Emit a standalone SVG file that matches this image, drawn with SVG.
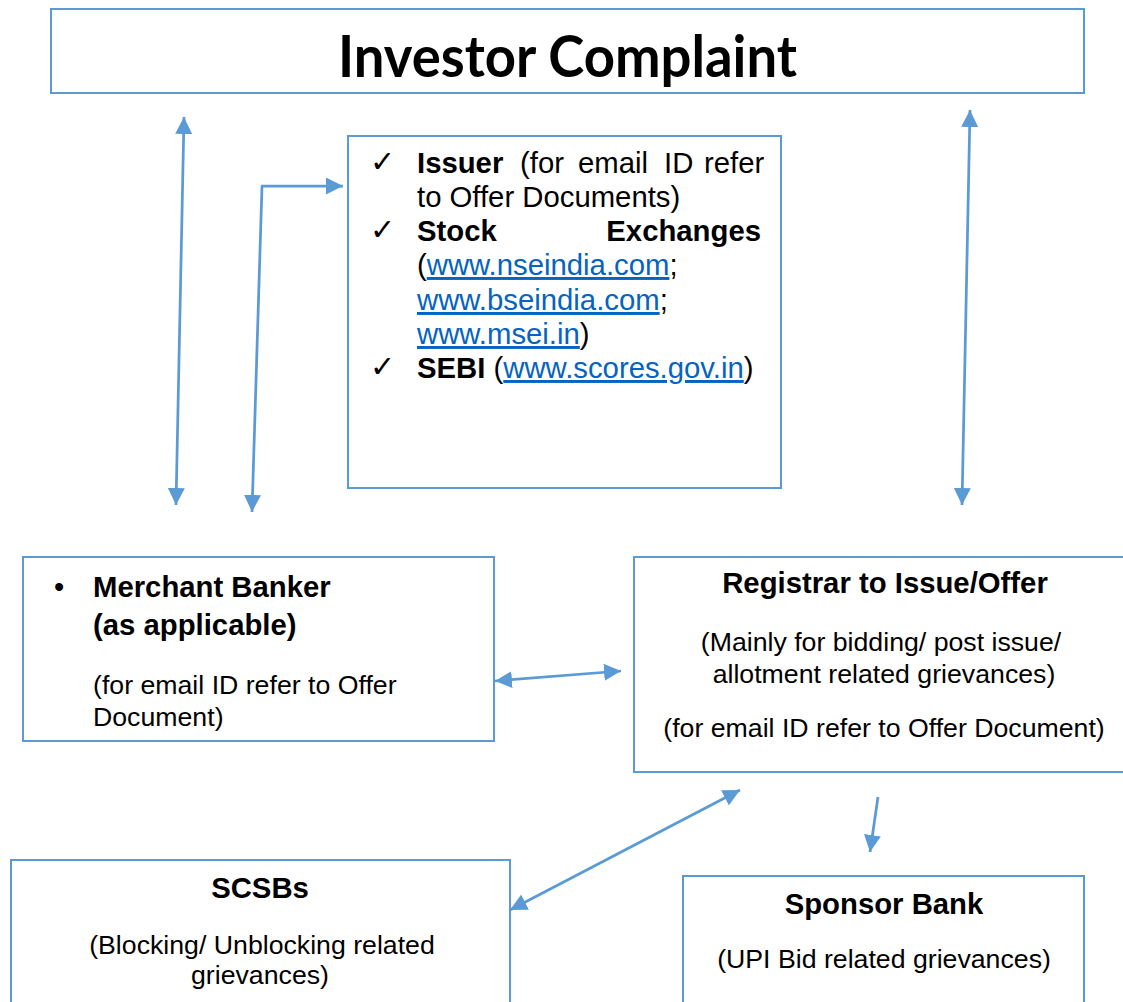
<svg xmlns="http://www.w3.org/2000/svg" width="1123" height="1002" viewBox="0 0 1123 1002">
<style>
.box{fill:#fff;stroke:#5B9BD5;stroke-width:2}
.t{font-family:"Liberation Sans",Arial,sans-serif;fill:#000}
.b{font-weight:bold}
.s29{font-size:29.3px}
.s27{font-size:26.7px}
.lnk{fill:#0563C1;text-decoration:underline}
.ck{font-family:"DejaVu Sans",sans-serif;font-size:30px;fill:#000}
.c{stroke:#5B9BD5;stroke-width:2.75;fill:none}
</style>
<defs>
<marker id="ah" viewBox="0 0 17 17" refX="17" refY="8.5" markerWidth="17" markerHeight="17" markerUnits="userSpaceOnUse" orient="auto-start-reverse">
<path d="M0,0 L17,8.5 L0,17 z" fill="#5B9BD5"/>
</marker>
</defs>
<g id="investor-complaint">
<rect class="box" x="51" y="9" width="1033" height="84"/>
<text x="338" y="77" font-family="Lato,'Open Sans',sans-serif" font-weight="bold" font-size="57" textLength="459" lengthAdjust="spacingAndGlyphs" fill="#000">Investor Complaint</text>
</g>
<g id="authorities">
<rect class="box" x="348" y="136" width="433" height="352"/>
<text class="ck" x="370" y="172">✓</text>
<text class="ck" x="370" y="240">✓</text>
<text class="ck" x="370" y="377">✓</text>
<text class="t s29" y="173"><tspan x="417" class="b">Issuer</tspan><tspan x="520">(for</tspan><tspan x="578">email</tspan><tspan x="664">ID</tspan><tspan x="704">refer</tspan></text>
<text class="t s29" x="417" y="207">to Offer Documents)</text>
<text class="t s29 b" x="417" y="241">Stock</text>
<text class="t s29 b" x="761" y="241" text-anchor="end">Exchanges</text>
<text class="t s29" x="417" y="275">(<tspan class="lnk">www.nseindia.com</tspan>;</text>
<text class="t s29" x="417" y="310"><tspan class="lnk">www.bseindia.com</tspan>;</text>
<text class="t s29" x="417" y="344"><tspan class="lnk">www.msei.in</tspan>)</text>
<text class="t s29" x="417" y="378"><tspan class="b">SEBI</tspan> (<tspan class="lnk">www.scores.gov.in</tspan>)</text>
</g>
<g id="merchant-banker">
<rect class="box" x="23" y="557" width="471" height="184"/>
<text class="t s29" x="54" y="597">•</text>
<text class="t s29 b" x="93" y="597">Merchant Banker</text>
<text class="t s29 b" x="93" y="635">(as applicable)</text>
<text class="t s27" x="93" y="694">(for email ID refer to Offer</text>
<text class="t s27" x="93" y="726">Document)</text>
</g>
<g id="registrar">
<rect class="box" x="634" y="557" width="495" height="215"/>
<text class="t s29 b" x="885" y="593" text-anchor="middle">Registrar to Issue/Offer</text>
<text class="t s27" x="881" y="651" text-anchor="middle">(Mainly for bidding/ post issue/</text>
<text class="t s27" x="884" y="683" text-anchor="middle">allotment related grievances)</text>
<text class="t s27" x="884" y="737" text-anchor="middle">(for email ID refer to Offer Document)</text>
</g>
<g id="scsbs">
<rect class="box" x="11" y="860" width="499" height="150"/>
<text class="t s29 b" x="260" y="898" text-anchor="middle">SCSBs</text>
<text class="t s27" x="262" y="954" text-anchor="middle">(Blocking/ Unblocking related</text>
<text class="t s27" x="260" y="984" text-anchor="middle">grievances)</text>
</g>
<g id="sponsor-bank">
<rect class="box" x="683" y="876" width="401" height="140"/>
<text class="t s29 b" x="884" y="914" text-anchor="middle">Sponsor Bank</text>
<text class="t s27" x="884" y="968" text-anchor="middle">(UPI Bid related grievances)</text>
</g>
<g id="connectors">
<line class="c" x1="184" y1="117" x2="176" y2="505" marker-start="url(#ah)" marker-end="url(#ah)"/>
<line class="c" x1="262" y1="186" x2="252" y2="512" marker-end="url(#ah)"/>
<line class="c" x1="261" y1="186" x2="343" y2="186" marker-end="url(#ah)"/>
<line class="c" x1="970" y1="110" x2="962" y2="505" marker-start="url(#ah)" marker-end="url(#ah)"/>
<line class="c" x1="495" y1="681" x2="621" y2="671" marker-start="url(#ah)" marker-end="url(#ah)"/>
<line class="c" x1="740" y1="790" x2="510" y2="910" marker-start="url(#ah)" marker-end="url(#ah)"/>
<line class="c" x1="878" y1="797" x2="870" y2="852" marker-end="url(#ah)"/>
</g>
</svg>
